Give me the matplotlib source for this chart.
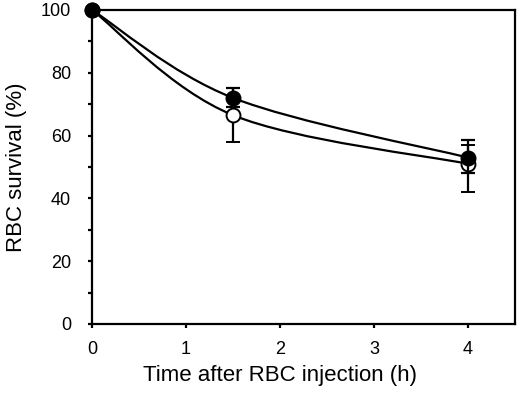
import matplotlib
matplotlib.use("Agg")
import matplotlib.pyplot as plt
from matplotlib.path import Path
from matplotlib.patches import PathPatch
import numpy as np

plt.rcParams['font.family'] = ['Liberation Sans', 'DejaVu Sans']

time_h = [0, 1.5, 4]
filled_vals = [100, 72, 53]
filled_err_low = [0, 3, 5]
filled_err_high = [0, 3, 5.5]
open_vals = [100, 66.5, 51]
open_err_low = [0, 8.5, 9]
open_err_high = [0, 8.5, 6]

fig = plt.figure(figsize=(5.2, 3.98), dpi=100)
ax = fig.add_axes([0.177, 0.186, 0.813, 0.789])


def smooth_path(xs, ys):
    # Excel-like smoothed line (Catmull-Rom as cubic Bezier)
    pts = np.column_stack([xs, ys]).astype(float)
    n = len(pts)
    verts = [pts[0]]
    codes = [Path.MOVETO]
    for i in range(n - 1):
        p_prev = pts[i - 1] if i > 0 else pts[i]
        p_next2 = pts[i + 2] if i + 2 < n else pts[i + 1]
        c1 = pts[i] + (pts[i + 1] - p_prev) / 6.0
        c2 = pts[i + 1] - (p_next2 - pts[i]) / 6.0
        verts += [c1, c2, pts[i + 1]]
        codes += [Path.CURVE4] * 3
    return Path(verts, codes)


for vals in (filled_vals, open_vals):
    ax.add_patch(PathPatch(smooth_path(time_h, vals), fill=False,
                           edgecolor='black', lw=1.6, zorder=2))

ax.errorbar(time_h, open_vals, yerr=[open_err_low, open_err_high], fmt='o',
            mfc='white', mec='black', mew=1.4, ms=10, color='black',
            elinewidth=1.6, capsize=5, capthick=1.6, zorder=3, clip_on=False)
ax.errorbar(time_h, filled_vals, yerr=[filled_err_low, filled_err_high], fmt='o',
            mfc='black', mec='black', ms=10.5, color='black',
            elinewidth=1.6, capsize=5, capthick=1.6, zorder=4, clip_on=False)

ax.set_xlim(0, 4.5)
ax.set_ylim(0, 100)
ax.set_xticks([0, 1, 2, 3, 4])
ax.set_yticks([0, 20, 40, 60, 80, 100])
ax.set_yticks(np.arange(10, 100, 20), minor=True)
for s in ax.spines.values():
    s.set_linewidth(1.6)
ax.tick_params(axis='both', which='both', direction='out', width=1.6,
               labelsize=13, color='black', length=3)
ax.tick_params(axis='y', which='major', pad=12)
ax.tick_params(axis='x', which='major', pad=9)
ax.set_xlabel('Time after RBC injection (h)', fontsize=16, labelpad=5)
ax.xaxis.label.set_x(2 / 4.5)
ax.set_ylabel('RBC survival (%)', fontsize=16, labelpad=10)

fig.savefig('out.png', dpi=100)
